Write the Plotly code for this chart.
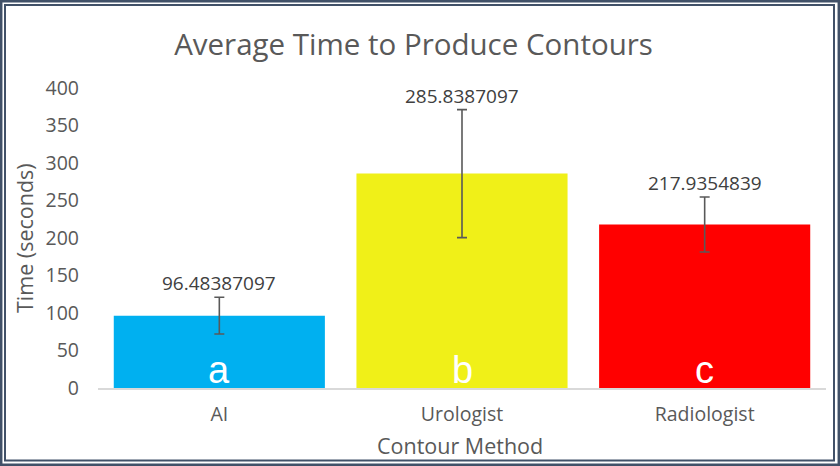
import plotly.graph_objects as go

categories = ["AI", "Urologist", "Radiologist"]
values = [96.48387097, 285.8387097, 217.9354839]
errors = [24.5, 85.3, 36.7]
letters = ["a", "b", "c"]
colors = ["#00b0f0", "#f0f018", "#ff0000"]
y_ticks = [0, 50, 100, 150, 200, 250, 300, 350, 400]

FONT = "Open Sans, sans-serif"
W, H = 840, 466
L, R, T, B = 98, 14, 88, 78
PW, PH = W - L - R, H - T - B

def px(x):
    return (x - L) / PW

def py(y):
    return (H - B - y) / PH

fig = go.Figure()
fig.add_trace(go.Bar(
    x=categories, y=values,
    marker=dict(color=colors, line=dict(width=0)),
    error_y=dict(type="data", array=errors, visible=True,
                 color="#595959", thickness=1.6, width=5),
    width=0.87,
    hoverinfo="skip",
))

annotations = []
for c, v, e in zip(categories, values, errors):
    annotations.append(dict(x=c, y=v + e, xref="x", yref="y", text=str(v),
                            showarrow=False, yanchor="bottom", yshift=-1,
                            font=dict(family=FONT, size=19, color="#404040")))
for c, l in zip(categories, letters):
    annotations.append(dict(x=c, y=0, xref="x", yref="y", text=l,
                            showarrow=False, yanchor="bottom", yshift=-5,
                            font=dict(family="Liberation Sans, Arial", size=38, color="#ffffff")))
annotations.append(dict(x=px(24), y=0.5, xref="paper", yref="paper",
                        text="Time (seconds)", textangle=-90, showarrow=False,
                        xanchor="center", yanchor="middle",
                        font=dict(family=FONT, size=21.5, color="#595959")))
annotations.append(dict(x=px(460), y=py(445), xref="paper", yref="paper",
                        text="Contour Method", showarrow=False,
                        xanchor="center", yanchor="middle",
                        font=dict(family=FONT, size=21.5, color="#595959")))

border = "#415168"
shapes = [
    dict(type="rect", xref="paper", yref="paper",
         x0=px(1.2), x1=px(W - 1.2), y0=py(H - 1.2), y1=py(1.2),
         line=dict(color=border, width=2.5), layer="above"),
    dict(type="rect", xref="paper", yref="paper",
         x0=px(5), x1=px(W - 6), y0=py(H - 5.5), y1=py(5),
         line=dict(color=border, width=2), layer="above"),
]

fig.update_layout(
    width=W, height=H,
    margin=dict(l=L, r=R, t=T, b=B),
    paper_bgcolor="white", plot_bgcolor="white",
    showlegend=False,
    title=dict(text="Average Time to Produce Contours", x=413.5 / W, xref="container",
               y=1 - 45 / H, yref="container", xanchor="center", yanchor="middle",
               font=dict(family=FONT, size=29.5, color="#595959")),
    xaxis=dict(showline=True, linecolor="#d9d9d9", linewidth=1.5, showgrid=False,
               ticks="", tickfont=dict(family=FONT, size=19.5, color="#595959"),
               ticklabelstandoff=8),
    yaxis=dict(range=[0, 400], tickvals=y_ticks, showgrid=False, zeroline=False,
               showline=False, ticks="", ticklabelstandoff=18,
               tickfont=dict(family=FONT, size=19.5, color="#595959")),
    annotations=annotations,
    shapes=shapes,
)

fig.write_html("out.html")
